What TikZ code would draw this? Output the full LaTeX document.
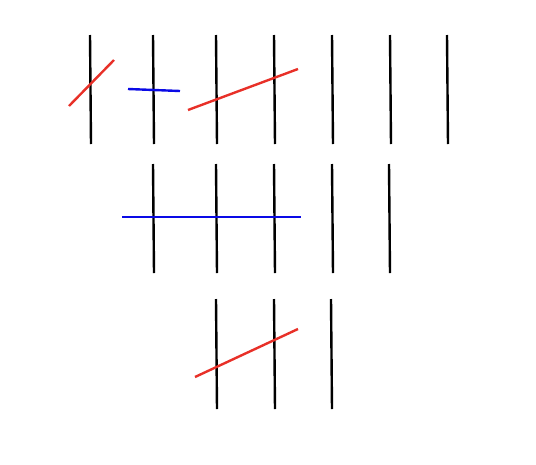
\documentclass[tikz,border=0pt]{standalone}
\definecolor{linered}{RGB}{232,48,40}
\definecolor{lineblue}{RGB}{10,10,230}
\begin{document}
\begin{tikzpicture}[x=1pt,y=-1pt,
  stick/.style={draw=black,line width=2.4pt},
  redline/.style={draw=linered,line width=2.4pt},
  blueline/.style={draw=lineblue,line width=2.4pt}]
\useasboundingbox (0,0) rectangle (536,464);
% row 1
\foreach \x in {90,153,216,274,332,390,447}
  \draw[stick] (\x,35) -- (\x+1,144);
\draw[redline] (69,106) -- (114,60);
\draw[blueline] (128,89) -- (180,91);
\draw[redline] (188,110) -- (298,69);
% row 2
\foreach \x in {153,216,274,332,389}
  \draw[stick] (\x,164) -- (\x+1,273);
\draw[blueline] (122,217) -- (301,217);
% row 3
\foreach \x in {216,274,331}
  \draw[stick] (\x,299) -- (\x+1,409);
\draw[redline] (195,377) -- (298,329);
\end{tikzpicture}
\end{document}
